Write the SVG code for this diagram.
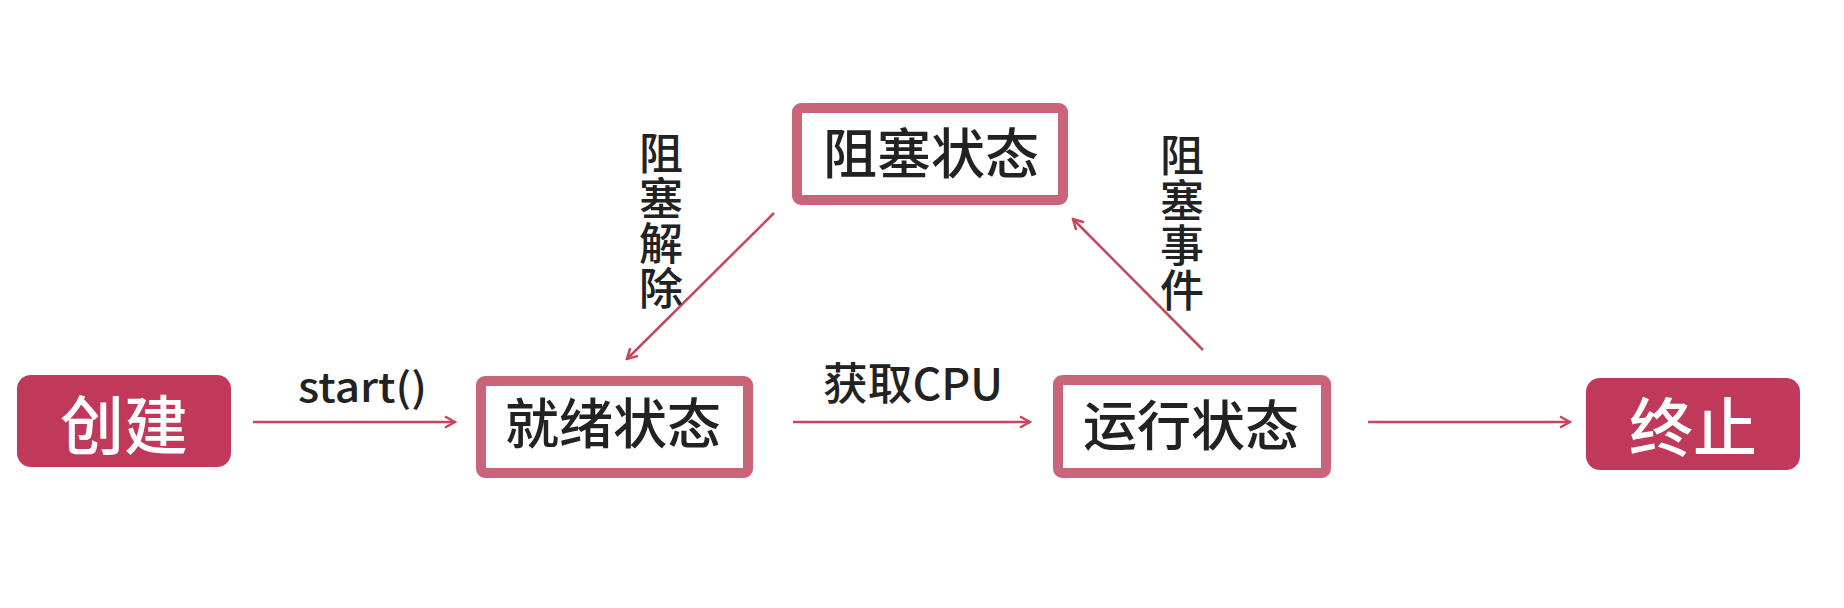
<svg xmlns="http://www.w3.org/2000/svg" width="1844" height="608" viewBox="0 0 1844 608">
<style>
.fill{fill:#c0385a}
.state{fill:#ffffff;stroke:#c96479;stroke-width:10}
.t{font-family:"Noto Sans CJK SC","Noto Sans",sans-serif;fill:#222222;font-weight:500}
.w{font-family:"Noto Sans CJK SC","Noto Sans",sans-serif;fill:#ffffff;font-weight:500}
.v{writing-mode:vertical-rl;letter-spacing:1px}
.edge{stroke:#c8455f;stroke-width:2.5;fill:none}
</style>
<defs>
<marker id="ah" viewBox="0 0 14 14" refX="12" refY="7" markerWidth="14" markerHeight="14" markerUnits="userSpaceOnUse" orient="auto">
<path d="M2,1.5 L12,7 L2,12.5" fill="none" stroke="#c8455f" stroke-width="2.5" stroke-linejoin="miter"/>
</marker>
</defs>
<rect width="1844" height="608" fill="#ffffff"/>
<g id="create">
<rect class="fill" x="17" y="375" width="214" height="92" rx="14"/>
<text class="w" x="124" y="449" font-size="64" text-anchor="middle">创建</text>
</g>
<g id="ready">
<rect class="state" x="481" y="381" width="267" height="92" rx="4"/>
<text class="t" x="613" y="444" font-size="54" text-anchor="middle">就绪状态</text>
</g>
<g id="running">
<rect class="state" x="1058" y="380" width="268" height="93" rx="4"/>
<text class="t" x="1191" y="446" font-size="54" text-anchor="middle">运行状态</text>
</g>
<g id="blocked">
<rect class="state" x="797" y="108" width="266" height="92" rx="4"/>
<text class="t" x="931" y="174" font-size="54" text-anchor="middle">阻塞状态</text>
</g>
<g id="terminated">
<rect class="fill" x="1586" y="378" width="214" height="92" rx="14"/>
<text class="w" x="1693" y="451" font-size="64" text-anchor="middle">终止</text>
</g>
<g id="connectors">
<line class="edge" x1="253" y1="422" x2="455" y2="422" marker-end="url(#ah)"/>
<line class="edge" x1="793" y1="422" x2="1030" y2="422" marker-end="url(#ah)"/>
<line class="edge" x1="1368" y1="422" x2="1570" y2="422" marker-end="url(#ah)"/>
<line class="edge" x1="774" y1="213" x2="627" y2="359" marker-end="url(#ah)"/>
<line class="edge" x1="1203" y1="350" x2="1073" y2="219" marker-end="url(#ah)"/>
<text class="t" x="298" y="402" font-size="40" textLength="129" lengthAdjust="spacingAndGlyphs">start()</text>
<text class="t" x="823" y="400" font-size="44" textLength="180" lengthAdjust="spacingAndGlyphs">获取CPU</text>
<text class="t v" x="661" y="131" font-size="44">阻塞解除</text>
<text class="t v" x="1182" y="133" font-size="44">阻塞事件</text>
</g>
</svg>
